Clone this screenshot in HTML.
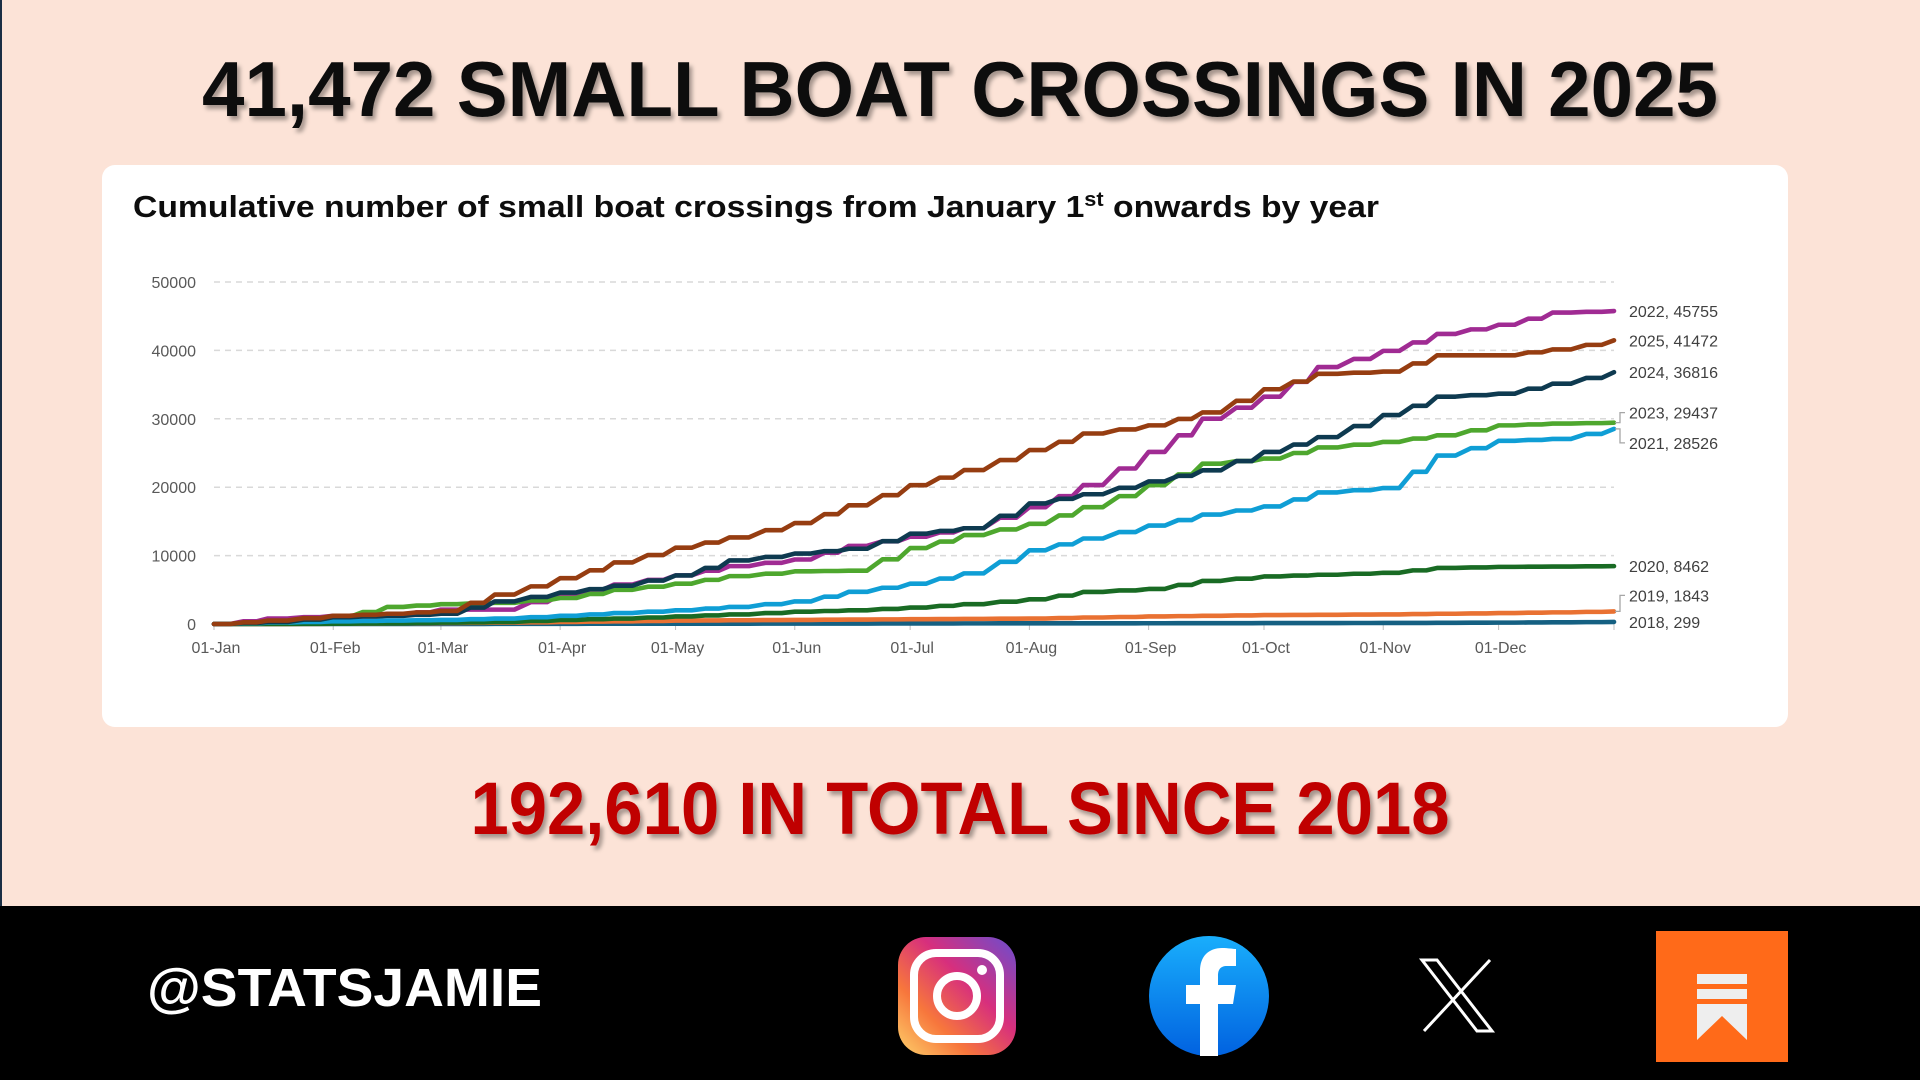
<!DOCTYPE html>
<html><head><meta charset="utf-8"><style>
html,body{margin:0;padding:0;width:1920px;height:1080px;overflow:hidden;background:#fce3d7}
svg{display:block}
</style></head><body>
<svg id="root" width="1920" height="1080" viewBox="0 0 1920 1080" xmlns="http://www.w3.org/2000/svg">
<defs>
<filter id="sh" x="-5%" y="-20%" width="110%" height="140%"><feDropShadow dx="3" dy="4" stdDeviation="2" flood-color="#000" flood-opacity="0.35"/></filter>
<linearGradient id="ig" x1="0" y1="1" x2="1" y2="0"><stop offset="0" stop-color="#fdd16a"/><stop offset="0.3" stop-color="#f7763c"/><stop offset="0.6" stop-color="#d72f7d"/><stop offset="1" stop-color="#6a4dd0"/></linearGradient>
<linearGradient id="fb" x1="0" y1="0" x2="0" y2="1"><stop offset="0" stop-color="#19aefc"/><stop offset="1" stop-color="#0162e0"/></linearGradient>
</defs>
<rect x="0" y="0" width="1920" height="1080" fill="#fce3d7"/>
<rect x="0" y="0" width="2" height="906" fill="#1a2e44"/>
<text x="960" y="116" text-anchor="middle" font-family="Liberation Sans, sans-serif" font-weight="bold" font-size="78" textLength="1516" lengthAdjust="spacingAndGlyphs" fill="#0d0d0d" filter="url(#sh)">41,472 SMALL BOAT CROSSINGS IN 2025</text>
<rect x="102" y="165" width="1686" height="562" rx="13" fill="#fff"/>
<text x="133" y="217" font-family="Liberation Sans, sans-serif" font-weight="bold" font-size="31" fill="#0d0d0d" textLength="1246" lengthAdjust="spacingAndGlyphs">Cumulative number of small boat crossings from January 1<tspan font-size="20" dy="-11">st</tspan><tspan dy="11"> onwards by year</tspan></text>
<g id="plot"></g>
<text x="960" y="834" text-anchor="middle" font-family="Liberation Sans, sans-serif" font-weight="bold" font-size="74" textLength="979" lengthAdjust="spacingAndGlyphs" fill="#c00000" filter="url(#sh)">192,610 IN TOTAL SINCE 2018</text>
<rect x="0" y="906" width="1920" height="174" fill="#000"/>
<text x="147" y="1006" font-family="Liberation Sans, sans-serif" font-weight="bold" font-size="54" fill="#fff" textLength="395" lengthAdjust="spacingAndGlyphs">@STATSJAMIE</text>
<g>
<rect x="898" y="937" width="118" height="118" rx="28" fill="url(#ig)"/>
<rect x="914" y="953" width="86" height="86" rx="22" fill="none" stroke="#fff" stroke-width="8"/>
<circle cx="957" cy="996" r="20" fill="none" stroke="#fff" stroke-width="8"/>
<circle cx="982" cy="970" r="5" fill="#fff"/>
</g>
<g>
<circle cx="1209" cy="996" r="60" fill="url(#fb)"/>
<path d="M1200 1056 V1004 H1186 V985 H1200 V971 C1200 956 1209 948 1222 948 C1228 948 1233 949 1236 949 V966 H1227 C1220 966 1218 970 1218 976 V985 H1236 L1233 1004 H1218 V1056 Z" fill="#fff"/>
</g>
<g fill="none" stroke="#fff" stroke-width="3">
<path d="M1422 960 H1437 L1492 1031 H1477 Z"/>
<path d="M1490 960 L1424 1031"/>
</g>
<g>
<rect x="1656" y="931" width="132" height="131" fill="#ff6a19"/>
<rect x="1697" y="974" width="50" height="10" fill="#eee"/>
<rect x="1697" y="989" width="50" height="10" fill="#eee"/>
<path d="M1697 1004 H1747 V1040 L1722 1016 L1697 1040 Z" fill="#eee"/>
</g>
</svg>
<script>
const dayPoints = [0,14,31,45,59,73,90,104,120,134,151,165,181,195,212,226,243,257,273,287,304,318,334,348,364];
const years = ['2018','2019','2020','2021','2022','2023','2024','2025'];
const v2018 = [0,0,0,0,10,20,30,40,50,50,60,70,80,90,100,100,110,120,130,140,150,170,200,250,299];
const v2019 = [0,0,50,100,150,200,300,400,500,550,600,650,700,750,800,950,1100,1200,1300,1350,1400,1500,1600,1700,1843];
const v2020 = [0,0,50,100,200,300,600,800,1100,1400,1800,2000,2400,2900,3610,4690,5120,6300,6950,7200,7490,8190,8350,8400,8462];
const v2021 = [0,200,400,500,600,800,1200,1600,2000,2500,3300,4700,5900,7400,10780,12500,14390,16000,17190,19240,19880,24620,26780,27050,28526];
const v2022 = [0,800,1200,1300,2100,2100,4300,5760,7110,8460,9430,11420,12770,14000,17080,20310,25160,30010,33240,37560,39930,42400,43750,45530,45755];
const v2023 = [0,300,1000,2500,2900,3100,3800,5000,5900,7000,7700,7800,11100,13000,14650,17080,20310,23440,24190,25810,26620,27590,29040,29300,29437];
const v2024 = [0,300,1000,1200,1500,3300,4600,5600,7100,9300,10300,11000,13200,14000,17620,18970,20850,22470,25160,27320,30550,33240,33670,35130,36816];
const v2025 = [0,500,1200,1500,1900,4300,6700,9000,11150,12660,14760,17350,20300,22500,25430,27850,29040,30930,34320,36580,36900,39280,39280,40140,41472];
const yTicks = [0,10000,20000,30000,40000,50000];
const monthLabels = ['01-Jan','01-Feb','01-Mar','01-Apr','01-May','01-Jun','01-Jul','01-Aug','01-Sep','01-Oct','01-Nov','01-Dec'];
const monthDays = [0,31,59,90,120,151,181,212,243,273,304,334];

const NS='http://www.w3.org/2000/svg';
const X0=214,X1=1614,Y0=624,Y1=282;
const xs=d=>X0+(X1-X0)*d/364;
const ys=v=>Y0-(Y0-Y1)*v/50000;
const plot=document.getElementById('plot');
function mk(tag,attrs){const e=document.createElementNS(NS,tag);for(const k in attrs)e.setAttribute(k,attrs[k]);plot.appendChild(e);return e;}

yTicks.forEach(t=>{
  const y=ys(t);
  if(t>0){const g=mk('line',{x1:X0,x2:X1,y1:y,y2:y,stroke:'#d9d9d9','stroke-width':1.5,'stroke-dasharray':'6 5'});
  
  }
  const tx=mk('text',{x:196,y:y+6,'text-anchor':'end','font-family':'Liberation Sans, sans-serif','font-size':16,fill:'#595959'});
  tx.textContent=t;
  
  
});
monthDays.forEach((d,i)=>{
  const x=xs(d);
  const tk=mk('line',{x1:x,x2:x,y1:Y0,y2:Y0+6,stroke:'#bfbfbf','stroke-width':1});
  
  
  const tx=mk('text',{x:x+2,y:653,'text-anchor':'middle','font-family':'Liberation Sans, sans-serif','font-size':16,fill:'#595959'});
  tx.textContent=monthLabels[i];
  
  
});
const endTick=mk('line',{x1:X1,x2:X1,y1:Y0,y2:Y0+6,stroke:'#bfbfbf','stroke-width':1});



const series={'2018':v2018,'2019':v2019,'2020':v2020,'2021':v2021,'2022':v2022,'2023':v2023,'2024':v2024,'2025':v2025};
const colors={'2018':'#156082','2019':'#e97132','2020':'#196b24','2021':'#0f9ed5','2022':'#a02b93','2023':'#4ea72e','2024':'#0e3a50','2025':'#963d11'};
const labelOffsets={'2018':0,'2019':-16,'2020':0,'2021':14,'2022':0,'2023':-10,'2024':0,'2025':0};
years.forEach(yr=>{
  const vals=series[yr];
  let d='';
  vals.forEach((v,i)=>{
    const x=xs(dayPoints[i]),y=ys(v);
    if(i===0)d+='M'+x+' '+y;
    else{
      const xp=xs(dayPoints[i-1]),yp=ys(vals[i-1]);
      const xa=xp+(x-xp)*0.3,xb=xp+(x-xp)*0.55,xc=xp+(x-xp)*0.8;
      const ym=(yp+y)/2;
      d+=' L'+xa+' '+yp+' L'+xb+' '+ym+' L'+xc+' '+ym+' L'+x+' '+y;
    }
  });
  const p=mk('path',{d:d,fill:'none',stroke:colors[yr],'stroke-width':4.6,'stroke-linejoin':'round','stroke-linecap':'round'});
  
  
  const last=vals[vals.length-1];
  const ly=ys(last)+labelOffsets[yr];
  if(labelOffsets[yr]!==0){
    const ld=mk('polyline',{points:[X1+1,ys(last),X1+6,ys(last),X1+6,ly,X1+11,ly].join(' '),fill:'none',stroke:'#a6a6a6','stroke-width':1.3});
    
    
  }
  const t=mk('text',{x:X1+15,y:ly+6,'font-family':'Liberation Sans, sans-serif','font-size':16,fill:'#404040'});
  t.textContent=yr+', '+last;
  
  
});
</script>
</body></html>
